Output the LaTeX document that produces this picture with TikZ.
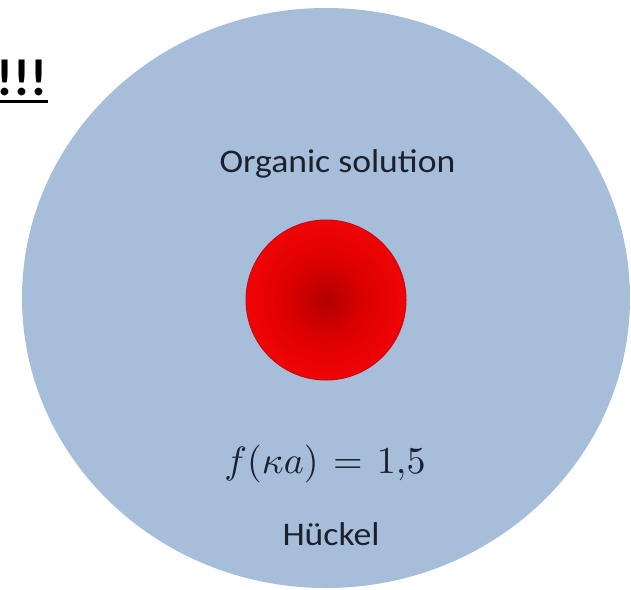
\documentclass[tikz,border=0pt]{standalone}
\usepackage{fontspec}
\setmainfont{Carlito}
\usepackage{graphicx}
\usetikzlibrary{shapes.geometric}
\definecolor{bgblue}{RGB}{167,190,219}
\definecolor{txt}{RGB}{28,32,44}
\definecolor{ballc}{RGB}{178,0,0}
\definecolor{ballm}{RGB}{220,0,0}
\definecolor{balle}{RGB}{248,6,6}
\definecolor{ballrim}{RGB}{200,10,20}
\pgfdeclareradialshading{redball}{\pgfpoint{0bp}{0bp}}{color(0bp)=(ballc);color(12bp)=(ballm);color(30bp)=(balle);color(50bp)=(balle)}
\tikzset{
  lbl/.style={anchor=base, inner sep=0pt, text=txt, font=\fontsize{33}{40}\selectfont},
}
\begin{document}
\begin{tikzpicture}[x=1pt,y=-1pt]
\useasboundingbox (0,0) rectangle (631,589);
\clip (0,0) rectangle (631,589);
\node[ellipse, fill=bgblue, minimum width=608pt, minimum height=580pt, inner sep=0pt] (sol) at (326,298) {};
\node[circle, shading=redball, draw=ballrim, line width=1pt, minimum size=160pt, inner sep=0pt] (ball) at (326,300) {};
\node[lbl] (org) at (337.5,172) {\scalebox{1.08}[1]{Organic solution}};
\node[anchor=base, inner sep=0pt, text=txt, font=\fontsize{10}{12}\selectfont] (eq) at (325,473) {\scalebox{3.8}{$f(\kappa a)\hspace{0.1em}=\hspace{0.1em}1{,}5$}};
\node[lbl] (huck) at (331,545) {\scalebox{1.08}[1]{Hückel}};
\node[anchor=base east, inner sep=0pt, text=black, font=\bfseries\fontsize{52}{60}\selectfont] (exc) at (47.5,95) {!!!};
\coordinate (ula) at (0,101.5);
\coordinate (ulb) at (48,101.5);
\draw[line width=3pt] (ula) -- (ulb);
\end{tikzpicture}
\end{document}
